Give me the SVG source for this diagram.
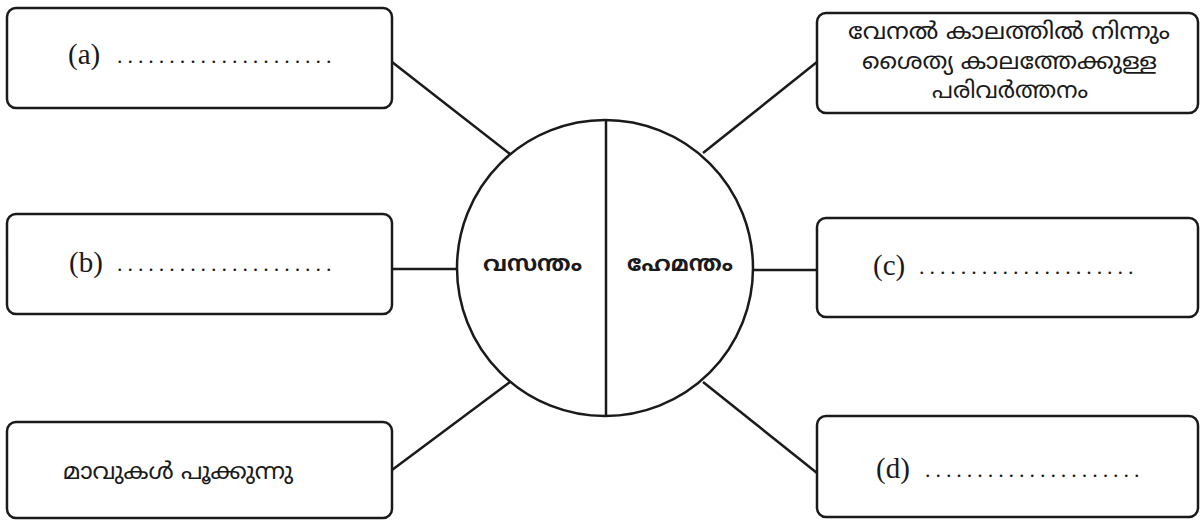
<svg xmlns="http://www.w3.org/2000/svg" width="1200" height="520" viewBox="0 0 1200 520">
<style>
.box{fill:#fff;stroke:#1a1a1a;stroke-width:2.5}
.ln{stroke:#1a1a1a;stroke-width:2.5;fill:none}
.lbl{font-family:"Liberation Serif","DejaVu Serif",serif;font-size:29px;fill:#1a1a1a}
.dots{font-family:"Liberation Serif","DejaVu Serif",serif;font-size:22px;letter-spacing:4.95px;fill:#1a1a1a}
.ml{font-family:"Noto Sans Malayalam","Noto Sans","DejaVu Sans",sans-serif;font-size:23px;fill:#1a1a1a}
.mlb{font-family:"Noto Sans Malayalam","Noto Sans","DejaVu Sans",sans-serif;font-size:22px;font-weight:bold;fill:#1a1a1a}
</style>
<rect width="1200" height="520" fill="#fff"/>
<g id="connectors">
<line class="ln" x1="392" y1="62" x2="510" y2="154"/>
<line class="ln" x1="392" y1="269" x2="457" y2="269"/>
<line class="ln" x1="392" y1="470" x2="510" y2="382"/>
<line class="ln" x1="703" y1="153" x2="817" y2="62"/>
<line class="ln" x1="754" y1="270" x2="817" y2="270"/>
<line class="ln" x1="703" y1="382" x2="817" y2="473"/>
</g>
<g id="center">
<circle class="box" cx="605" cy="268" r="148"/>
<line class="ln" x1="606" y1="120" x2="606" y2="416"/>
<text class="mlb" x="483" y="271" textLength="99" lengthAdjust="spacingAndGlyphs">വസന്തം</text>
<text class="mlb" x="627" y="271" textLength="106" lengthAdjust="spacingAndGlyphs">ഹേമന്തം</text>
</g>
<g id="box-a">
<rect class="box" x="7" y="8" width="385" height="100" rx="9"/>
<text class="lbl" x="68" y="64">(a)</text>
<text class="dots" x="117" y="63">.....................</text>
</g>
<g id="box-b">
<rect class="box" x="7" y="214" width="385" height="100" rx="9"/>
<text class="lbl" x="69" y="272">(b)</text>
<text class="dots" x="117" y="271">.....................</text>
</g>
<g id="box-left-bottom">
<rect class="box" x="7" y="422" width="385" height="96" rx="9"/>
<text class="ml" x="63" y="479" textLength="230" lengthAdjust="spacingAndGlyphs">മാവുകൾ പൂക്കുന്നു</text>
</g>
<g id="box-top-right">
<rect class="box" x="817" y="13" width="381" height="100" rx="9"/>
<text class="ml" x="848" y="39" textLength="322" lengthAdjust="spacingAndGlyphs">വേനൽ കാലത്തിൽ നിന്നും</text>
<text class="ml" x="862" y="69" textLength="295" lengthAdjust="spacingAndGlyphs">ശൈത്യ കാലത്തേക്കുള്ള</text>
<text class="ml" x="932" y="98" textLength="156" lengthAdjust="spacingAndGlyphs">പരിവർത്തനം</text>
</g>
<g id="box-c">
<rect class="box" x="817" y="218" width="381" height="99" rx="9"/>
<text class="lbl" x="873" y="275">(c)</text>
<text class="dots" x="919" y="274">.....................</text>
</g>
<g id="box-d">
<rect class="box" x="817" y="416" width="381" height="101" rx="9"/>
<text class="lbl" x="876" y="478">(d)</text>
<text class="dots" x="925" y="477">.....................</text>
</g>
</svg>
